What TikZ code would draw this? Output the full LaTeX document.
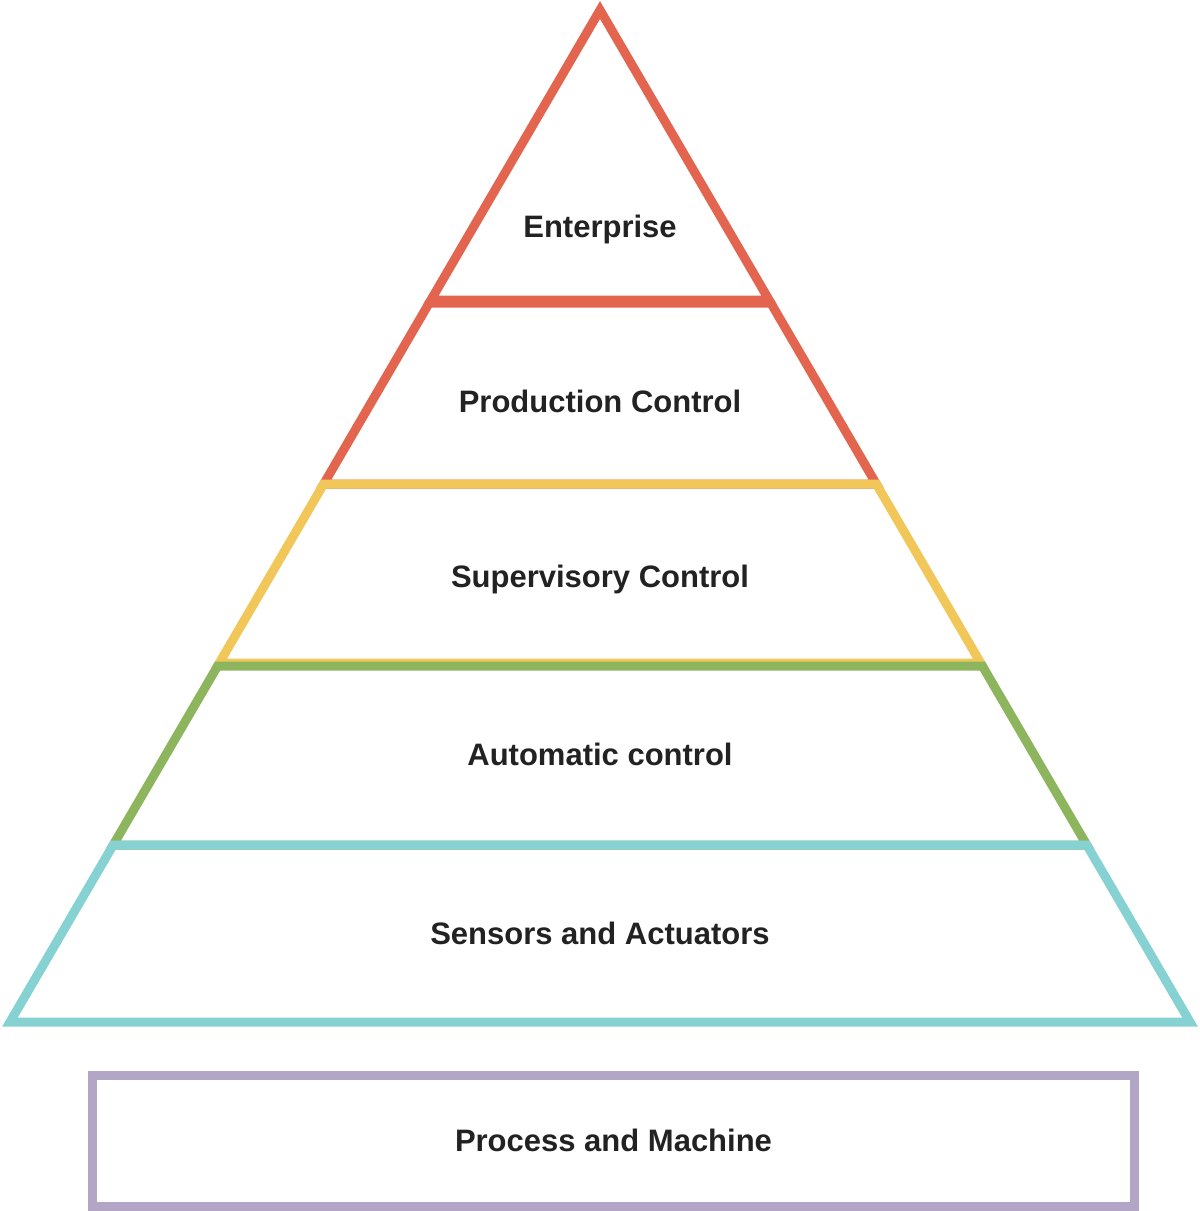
\documentclass[tikz,border=0pt]{standalone}
\usepackage{fontspec}
\setmainfont{Liberation Sans}
\definecolor{cred}{HTML}{E3654F}
\definecolor{cyellow}{HTML}{F2C75A}
\definecolor{cgreen}{HTML}{8DB55E}
\definecolor{ccyan}{HTML}{86D2D3}
\definecolor{cpurple}{HTML}{B3A5C5}
\definecolor{ctext}{HTML}{222222}
\begin{document}
\begin{tikzpicture}[x=1pt,y=-1pt,
  level/.style={line width=9pt, line join=miter},
  lbl/.style={font=\fontsize{31}{36}\selectfont\bfseries, text=ctext, inner sep=0pt, anchor=base}]
\useasboundingbox (0,0) rectangle (1200,1211);
% levels
\draw[level, draw=cred] (600,10) -- (769.1,300) -- (430.9,300) -- cycle;
\draw[level, draw=cred] (429.2,303) -- (770.8,303) -- (876.3,484) -- (323.7,484) -- cycle;
\draw[level, draw=cyellow] (323.7,484) -- (876.3,484) -- (980.7,663) -- (219.3,663) -- cycle;
\draw[level, draw=cgreen] (217.6,666) -- (982.4,666) -- (1086.8,845) -- (113.2,845) -- cycle;
\draw[level, draw=ccyan] (113.2,845) -- (1086.8,845) -- (1190,1022) -- (10,1022) -- cycle;
\draw[level, draw=cpurple] (92.5,1075.5) rectangle (1134.5,1206.5);
% labels
\node[lbl] (ent) at (600,237) {Enterprise};
\node[lbl] (prod) at (600,412) {Production Control};
\node[lbl] (sup) at (600,587) {Supervisory Control};
\node[lbl] (auto) at (600,765) {Automatic control};
\node[lbl] (sens) at (600,944) {Sensors and Actuators};
\node[lbl] (proc) at (613.5,1151) {Process and Machine};
\end{tikzpicture}
\end{document}
